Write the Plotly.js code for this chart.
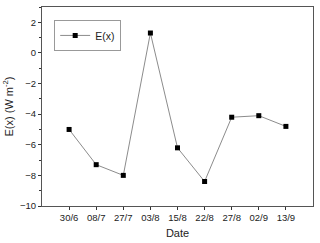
<!DOCTYPE html>
<html><head><meta charset="utf-8">
<script src="https://cdn.plot.ly/plotly-3.0.1.min.js"></script>
<style>html,body{margin:0;padding:0;background:#fff}#c{width:320px;height:243px}</style>
</head><body><div id="c"></div>
<script>
const dates = ["30/6","08/7","27/7","03/8","15/8","22/8","27/8","02/9","13/9"];
const ex = [-5.0,-7.3,-8.0,1.3,-6.2,-8.4,-4.2,-4.1,-4.8];
const yTicks = [-10,-8,-6,-4,-2,0,2];
const xIdx = dates.map((d,i)=>i);

const trace = {
  x: xIdx, y: ex, type: 'scatter', mode: 'lines+markers', name: 'E(x)',
  line: {color: '#8c8c8c', width: 1},
  marker: {symbol: 'square', size: 5, color: '#000'}
};
const font = {family: 'Liberation Sans, Arial, sans-serif', color: '#222'};
const layout = {
  width: 320, height: 243,
  margin: {l: 42, r: 7, t: 7, b: 37},
  paper_bgcolor: '#fff', plot_bgcolor: '#fff',
  font: font,
  showlegend: true,
  legend: {x: 0.045, y: 0.935, xanchor: 'left', yanchor: 'top',
    bordercolor: '#999', borderwidth: 1, bgcolor: '#fff',
    font: {family: font.family, size: 10.5, color: '#222'}, itemwidth: 30,
    tracegroupgap: 0, valign: 'middle'},
  xaxis: {
    range: [-1, 9], tickmode: 'array', tickvals: xIdx, ticktext: dates,
    ticks: 'outside', ticklen: 3, tickcolor: '#333', tickwidth: 1,
    showline: true, linecolor: '#555', linewidth: 1, mirror: true,
    showgrid: false, zeroline: false,
    tickfont: {family: font.family, size: 9.5, color: '#222'},
    title: {text: 'Date', font: {family: font.family, size: 11, color: '#222'}, standoff: 6}
  },
  yaxis: {
    range: [-10, 3], tickmode: 'array', tickvals: yTicks,
    ticks: 'outside', ticklen: 3, tickcolor: '#333', tickwidth: 1,
    minor: {dtick: 1, tick0: 0, ticks: 'outside', ticklen: 2, tickcolor: '#333'},
    showline: true, linecolor: '#555', linewidth: 1, mirror: true,
    showgrid: false, zeroline: false,
    tickfont: {family: font.family, size: 9.5, color: '#222'},
    title: {text: 'E(x) (W m<sup>-2</sup>)', font: {family: font.family, size: 11, color: '#222'}, standoff: 4}
  }
};
Plotly.newPlot('c', [trace], layout, {staticPlot: true, displayModeBar: false}).then(()=>{
  // tighten legend box height to match the compact reference legend
  const bg = document.querySelector('.legend .bg');
  if (bg) { /* keep library rendering */ }
});
</script></body></html>
